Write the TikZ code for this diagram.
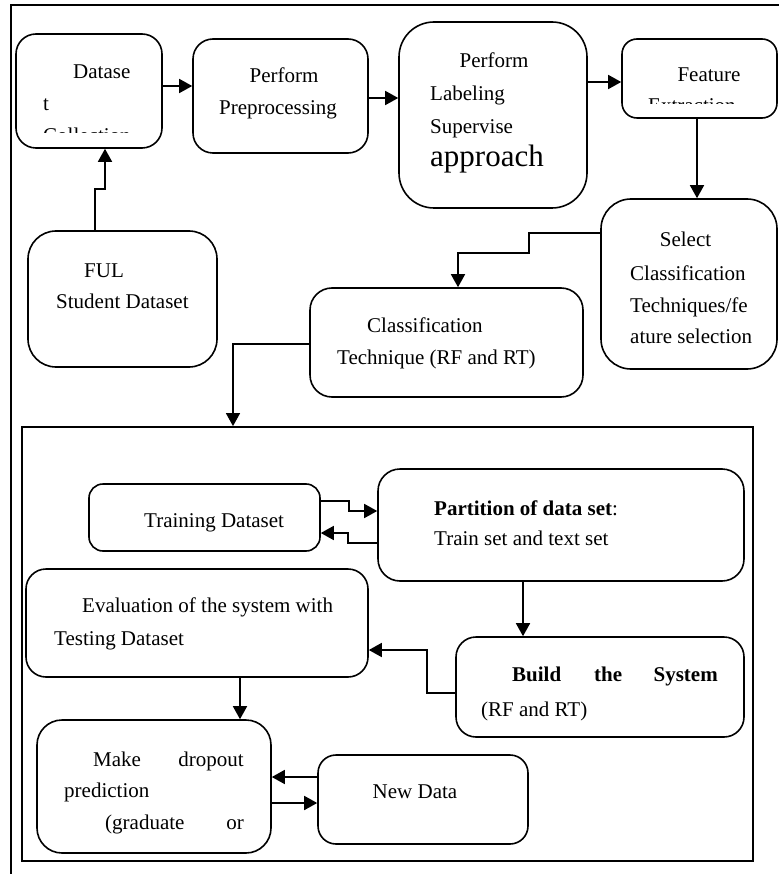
\documentclass[tikz,border=0pt]{standalone}
\usepackage{fontspec}
\setmainfont{Liberation Serif}
\usetikzlibrary{arrows.meta}
\begin{document}
\begin{tikzpicture}[x=1pt,y=-1pt,
  box/.style={draw, line width=1.6pt, inner sep=0pt, rectangle},
  txt/.style={inner sep=0pt, font=\fontsize{21pt}{25pt}\selectfont},
  big/.style={inner sep=0pt, font=\fontsize{31pt}{36pt}\selectfont},
  arr/.style={-{Triangle[length=13pt,width=14pt]}, line width=1.6pt},
  ln/.style={line width=1.6pt}
]
\useasboundingbox (0,0) rectangle (779,874);
% outer frame lines
\draw[line width=1.8pt] (11,874) coordinate (fa) -- (11,5) -- (779,5) coordinate (fb);
% boxes
\node[box, rounded corners=20pt, minimum width=146pt, minimum height=114pt] (ds) at (89,91) {};
\node[box, rounded corners=20pt, minimum width=175pt, minimum height=114pt] (pp) at (280.5,96) {};
\node[box, rounded corners=35pt, minimum width=188pt, minimum height=186pt] (lab) at (493,115) {};
\node[box, rounded corners=15pt, minimum width=155pt, minimum height=79pt] (fe) at (699.5,78.5) {};
\node[box, rounded corners=30pt, minimum width=176pt, minimum height=170pt] (sel) at (689,284) {};
\node[box, rounded corners=28pt, minimum width=189pt, minimum height=136pt] (ful) at (122.5,299) {};
\node[box, rounded corners=22pt, minimum width=273pt, minimum height=109pt] (cls) at (446.5,342.5) {};
\node[draw, line width=1.8pt, inner sep=0pt, minimum width=731pt, minimum height=434pt] (inner) at (387.5,644) {};
\node[box, rounded corners=14pt, minimum width=231pt, minimum height=67pt] (tr) at (204.5,517.5) {};
\node[box, rounded corners=22pt, minimum width=366pt, minimum height=112pt] (part) at (561,525) {};
\node[box, rounded corners=20pt, minimum width=342pt, minimum height=108pt] (ev) at (197,623) {};
\node[box, rounded corners=20pt, minimum width=288pt, minimum height=100pt] (bld) at (600,687) {};
\node[box, rounded corners=25pt, minimum width=234pt, minimum height=133pt] (mk) at (154,786.5) {};
\node[box, rounded corners=18pt, minimum width=210pt, minimum height=89pt] (nd) at (423,799.5) {};
% texts
\node[txt, anchor=base west] (t1) at (73,79) {Datase};
\node[txt, anchor=base west] (t2) at (43,111) {t};
\begin{scope}
\clip (16,34) rectangle (162,133);
\node[txt, anchor=base west] (t3) at (43,143) {Collection};
\end{scope}
\node[txt, anchor=base] (t4) at (284,83) {Perform};
\node[txt, anchor=base] (t5) at (278,115) {Preprocessing};
\node[txt, anchor=base] (t6) at (494,68) {Perform};
\node[txt, anchor=base west] (t7) at (430,101) {Labeling};
\node[txt, anchor=base west] (t8) at (430,134) {Supervise};
\node[big, anchor=base west] (t9) at (430,167) {approach};
\node[txt, anchor=base] (t10) at (709,82) {Feature};
\begin{scope}
\clip (622,39) rectangle (777,104);
\node[txt, anchor=base west] (t11) at (648,113) {Extraction};
\end{scope}
\node[txt, anchor=base] (t12) at (685.5,247) {Select};
\node[txt, anchor=base west] (t13) at (630,280) {Classification};
\node[txt, anchor=base west] (t14) at (630,312) {Techniques/fe};
\node[txt, anchor=base west] (t15) at (630,343) {ature selection};
\node[txt, anchor=base west] (t16) at (84,277) {FUL};
\node[txt, anchor=base west] (t17) at (56,308) {Student Dataset};
\node[txt, anchor=base west] (t18) at (367,332) {Classification};
\node[txt, anchor=base west] (t19) at (337,364) {Technique (RF and RT)};
\node[txt, anchor=base west] (t20) at (144,527) {Training Dataset};
\node[txt, anchor=base west] (t21) at (434,515) {\textbf{Partition of data set}:};
\node[txt, anchor=base west] (t22) at (434,545) {Train set and text set};
\node[txt, anchor=base west] (t23) at (82,612) {Evaluation of the system with};
\node[txt, anchor=base west] (t24) at (54,645) {Testing Dataset};
\node[txt, anchor=base west] (t25) at (512,681) {\textbf{Build}};
\node[txt, anchor=base west] (t26) at (594,681) {\textbf{the}};
\node[txt, anchor=base east] (t27) at (718,681) {\textbf{System}};
\node[txt, anchor=base west] (t28) at (481,716) {(RF and RT)};
\node[txt, anchor=base west] (t29) at (93,766) {Make};
\node[txt, anchor=base east] (t30) at (244,766) {dropout};
\node[txt, anchor=base west] (t31) at (64,797) {prediction};
\node[txt, anchor=base west] (t32) at (105,829) {(graduate};
\node[txt, anchor=base east] (t33) at (244,829) {or};
\node[txt, anchor=base] (t34) at (415,798) {New Data};
% connectors
\draw[arr] (ds.east |- 0,86) -- (pp.west |- 0,86);
\draw[arr] (pp.east |- 0,98) -- (lab.west |- 0,98);
\draw[arr] (lab.east |- 0,82) -- (fe.west |- 0,82);
\draw[arr] (fe.south -| 697,0) -- (sel.north -| 697,0);
\draw[arr] (ful.north -| 95,0) |- (105,189) -- (ds.south -| 105,0);
\draw[arr] (sel.west |- 0,233) -| (529,253) -| (cls.north -| 458,0);
\draw[arr] (cls.west |- 0,344) -| (inner.north -| 233,0);
\draw[arr] (tr.east |- 0,501) -| (349,511) -- (part.west |- 0,511);
\draw[arr] (part.west |- 0,543) -| (348,533) -- (tr.east |- 0,533);
\draw[arr] (part.south -| 523,0) -- (bld.north -| 523,0);
\draw[arr] (bld.west |- 0,693) -| (427,650) -- (ev.east |- 0,650);
\draw[arr] (ev.south -| 240,0) -- (mk.north -| 240,0);
\draw[arr] (nd.west |- 0,777) -- (mk.east |- 0,777);
\draw[arr] (mk.east |- 0,803) -- (nd.west |- 0,803);
\end{tikzpicture}
\end{document}
